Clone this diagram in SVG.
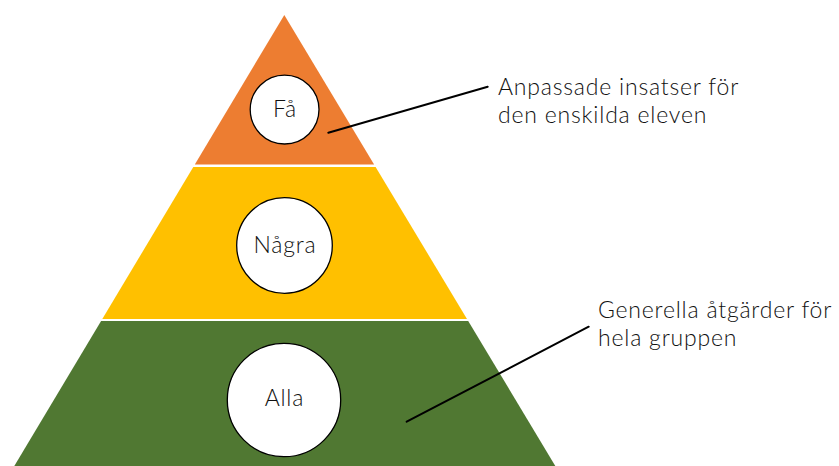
<svg xmlns="http://www.w3.org/2000/svg" width="839" height="466" viewBox="0 0 839 466">
<style>
.node circle{fill:#fff;stroke:#000;stroke-width:1.3}
text{font-family:Lato,"Noto Sans",sans-serif;font-size:23px;font-weight:300;letter-spacing:0.8px;fill:#111}
.c{text-anchor:middle}
.conn line{stroke:#000;stroke-width:2;stroke-linecap:round}
</style>
<rect width="839" height="466" fill="#fff"/>
<g id="level-top">
<polygon points="284.3,15 374.1,164.5 194.8,164.5" fill="#ED7D31"/>
</g>
<g id="level-middle">
<polygon points="193.3,167 375.6,167 467,319 102.3,319" fill="#FFC000"/>
</g>
<g id="level-bottom">
<polygon points="101.1,321 468.2,321 555.3,466 14.3,466" fill="#507832"/>
</g>
<g id="node-fa" class="node">
<circle cx="284.6" cy="109.6" r="34.4"/>
<text class="c" x="285" y="117">Få</text>
</g>
<g id="node-nagra" class="node">
<circle cx="284.5" cy="245.5" r="47.8"/>
<text class="c" x="284.9" y="253">Några</text>
</g>
<g id="node-alla" class="node">
<circle cx="284" cy="400" r="56.7"/>
<text class="c" x="284.4" y="406">Alla</text>
</g>
<g class="conn" id="connectors">
<line x1="328.3" y1="132.7" x2="487.7" y2="86.7"/>
<line x1="406.7" y1="421.7" x2="588.7" y2="326.7"/>
</g>
<g id="label-top">
<text x="498" y="95">Anpassade insatser för</text>
<text x="498" y="123">den enskilda eleven</text>
</g>
<g id="label-bottom">
<text x="598" y="318">Generella åtgärder för</text>
<text x="598" y="346">hela gruppen</text>
</g>
</svg>
